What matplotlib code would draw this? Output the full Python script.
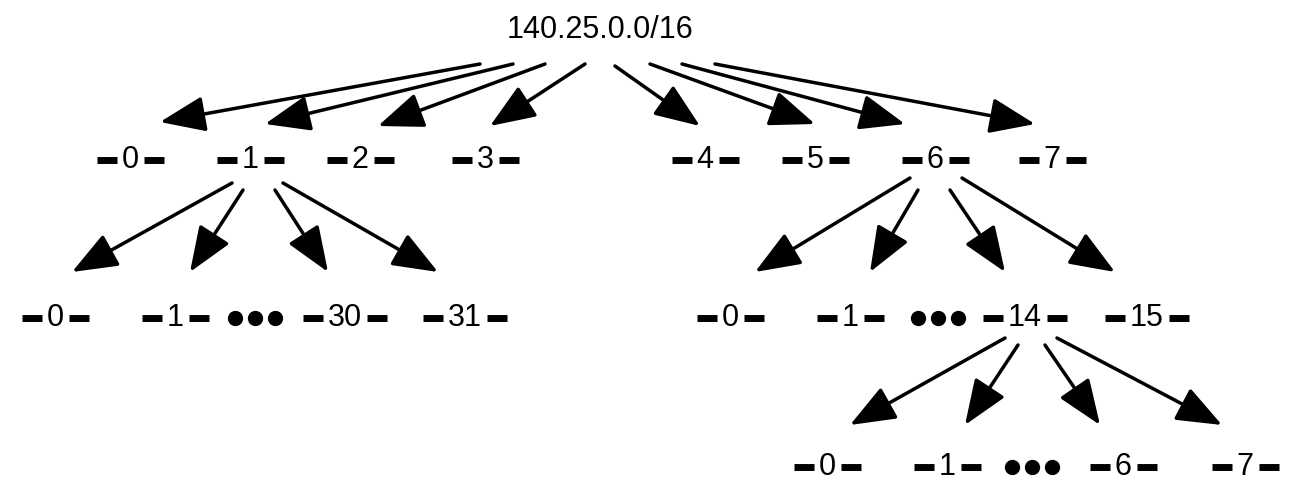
import matplotlib
matplotlib.use("Agg")
import matplotlib.pyplot as plt
from matplotlib.patches import FancyArrowPatch, ArrowStyle

plt.rcParams["font.family"] = ["Liberation Sans", "DejaVu Sans"]

W, H = 1294, 488

root_label = "140.25.0.0/16"
root_pos = (600, 30)

# (label, x, y) for each node; "..." means the ellipsis dots
level1_labels = ["0", "1", "2", "3", "4", "5", "6", "7"]
level1_x = [130, 250, 360, 485, 705, 815, 935, 1052]
level1_y = 160

left2_labels = ["0", "1", "...", "30", "31"]
left2_x = [55, 175, 255, 345, 465]
right2_labels = ["0", "1", "...", "14", "15"]
right2_x = [730, 850, 938, 1025, 1147]
level2_y = 318

level3_labels = ["0", "1", "...", "6", "7"]
level3_x = [827, 947, 1032, 1123, 1245]
level3_y = 467

# arrows: (x0, y0, x1, y1)
arrows = [
    (480, 64, 160, 122), (513, 64, 265, 124), (545, 64, 378, 126), (585, 64, 490, 126),
    (615, 66, 700, 126), (650, 64, 815, 124), (682, 64, 905, 124), (715, 64, 1035, 124),
    (232, 183, 72, 272), (243, 190, 190, 272), (275, 190, 328, 272), (283, 183, 438, 272),
    (910, 178, 755, 272), (918, 190, 870, 272), (950, 190, 1005, 272), (962, 178, 1115, 272),
    (1005, 338, 850, 425), (1018, 345, 965, 425), (1045, 345, 1100, 425), (1057, 338, 1222, 425),
]

fig = plt.figure(figsize=(W / 100, H / 100), dpi=100)
ax = fig.add_axes([0, 0, 1, 1])
ax.set_xlim(0, W)
ax.set_ylim(H, 0)
ax.axis("off")

FS = 22
CHAR_W = 17


def draw_node(label, x, y):
    if label == "...":
        ax.plot([x - 20, x, x + 20], [y, y, y], "o", color="black", markersize=10)
        return
    ax.text(x, y, label, fontsize=FS, ha="center", va="center")
    half = len(label) * CHAR_W / 2 + 5
    ax.plot([x - half - 20, x - half], [y, y], color="black", lw=5, solid_capstyle="butt")
    ax.plot([x + half, x + half + 20], [y, y], color="black", lw=5, solid_capstyle="butt")


ax.text(*root_pos, root_label, fontsize=FS, ha="center", va="center")
for lab, x in zip(level1_labels, level1_x):
    draw_node(lab, x, level1_y)
for lab, x in zip(left2_labels, left2_x):
    draw_node(lab, x, level2_y)
for lab, x in zip(right2_labels, right2_x):
    draw_node(lab, x, level2_y)
for lab, x in zip(level3_labels, level3_x):
    draw_node(lab, x, level3_y)

style = ArrowStyle("-|>", head_length=1.4, head_width=0.55)
for x0, y0, x1, y1 in arrows:
    ax.add_patch(FancyArrowPatch((x0, y0), (x1, y1), arrowstyle=style, mutation_scale=20,
                                 lw=2.5, color="black", shrinkA=0, shrinkB=0))

fig.savefig("out.png", dpi=100)
